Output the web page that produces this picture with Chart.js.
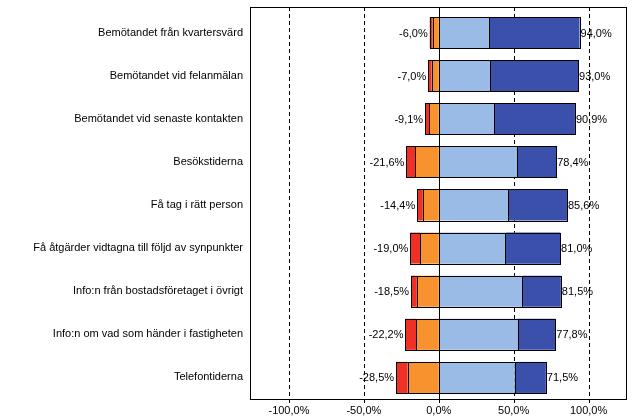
<!DOCTYPE html>
<html>
<head>
<meta charset="utf-8">
<script src="https://cdn.jsdelivr.net/npm/chart.js@4/dist/chart.umd.min.js"></script>
<style>
html,body{margin:0;padding:0;background:#fff;}
canvas{display:block;}
</style>
</head>
<body>
<canvas id="c" width="634" height="419"></canvas>
<script>
const categories = [
  "Bemötandet från kvartersvärd",
  "Bemötandet vid felanmälan",
  "Bemötandet vid senaste kontakten",
  "Besökstiderna",
  "Få tag i rätt person",
  "Få åtgärder vidtagna till följd av synpunkter",
  "Info:n från bostadsföretaget i övrigt",
  "Info:n om vad som händer i fastigheten",
  "Telefontiderna"
];
const negOrange = [-4.0, -4.7, -6.4, -15.7, -10.6, -12.3, -14.6, -15.2, -20.7];
const negRed    = [-2.0, -2.3, -2.7, -5.9, -3.8, -6.7, -3.9, -7.0, -7.8];
const posLight  = [33.3, 34.3, 37.1, 52.5, 46.4, 44.5, 55.9, 52.6, 50.8];
const posDark   = [60.7, 58.7, 53.8, 25.9, 39.2, 36.5, 25.6, 25.2, 20.7];
const negLabels = ["-6,0%", "-7,0%", "-9,1%", "-21,6%", "-14,4%", "-19,0%", "-18,5%", "-22,2%", "-28,5%"];
const posLabels = ["94,0%", "93,0%", "90,9%", "78,4%", "85,6%", "81,0%", "81,5%", "77,8%", "71,5%"];
const xTickValues = [-100, -50, 0, 50, 100];
const xTickLabels = ["-100,0%", "-50,0%", "0,0%", "50,0%", "100,0%"];

const FONT = "'Liberation Sans', Arial, sans-serif";
const FRAME_EXTRA_TOP = 4;

const bgAndLabels = {
  id: 'bgAndLabels',
  beforeDraw(chart) {
    const ctx = chart.ctx;
    ctx.save();
    ctx.fillStyle = '#fff';
    ctx.fillRect(0, 0, chart.width, chart.height);
    const xs = chart.scales.x, ys = chart.scales.y;
    ctx.font = '11px ' + FONT;
    ctx.fillStyle = '#000';
    ctx.textBaseline = 'middle';
    for (let i = 0; i < categories.length; i++) {
      const y = ys.getPixelForValue(i);
      const negEnd = xs.getPixelForValue(negOrange[i] + negRed[i]);
      const posEnd = xs.getPixelForValue(posLight[i] + posDark[i]);
      ctx.textAlign = 'right';
      ctx.fillText(negLabels[i], negEnd - 2, y + 1);
      ctx.textAlign = 'left';
      ctx.fillText(posLabels[i], posEnd + 1, y + 1);
    }
    ctx.restore();
  },
  beforeDatasetsDraw(chart) {
    const ctx = chart.ctx;
    const a = chart.chartArea;
    const xs = chart.scales.x;
    ctx.save();
    ctx.strokeStyle = '#000';
    ctx.lineWidth = 1;
    ctx.setLineDash([4, 3]);
    xTickValues.forEach(v => {
      if (v === 0) return;
      const x = Math.round(xs.getPixelForValue(v)) + 0.5;
      ctx.beginPath();
      ctx.moveTo(x, Math.round(a.top) - FRAME_EXTRA_TOP);
      ctx.lineTo(x, Math.round(a.bottom) + 4);
      ctx.stroke();
    });
    ctx.restore();
  },
  afterDatasetsDraw(chart) {
    const ctx = chart.ctx;
    const a = chart.chartArea;
    const xs = chart.scales.x;
    ctx.save();
    ctx.strokeStyle = '#000';
    ctx.lineWidth = 1;
    chart.data.datasets.forEach((ds, di) => {
      const meta = chart.getDatasetMeta(di);
      meta.data.forEach(el => {
        const p = el.getProps(['x', 'y', 'base', 'height'], true);
        const l = Math.round(Math.min(p.x, p.base)) + 0.5;
        const r = Math.round(Math.max(p.x, p.base)) + 0.5;
        const t = Math.round(p.y - p.height / 2) + 0.5;
        const b = Math.round(p.y + p.height / 2) + 0.5;
        ctx.strokeRect(l, t, r - l, b - t);
      });
    });
    const top = Math.round(a.top) - FRAME_EXTRA_TOP;
    const x0 = Math.round(xs.getPixelForValue(0)) + 0.5;
    ctx.beginPath();
    ctx.moveTo(x0, top);
    ctx.lineTo(x0, Math.round(a.bottom) + 4);
    ctx.stroke();
    ctx.strokeRect(Math.round(a.left) + 0.5, top + 0.5, Math.round(a.right - a.left), Math.round(a.bottom) - top);
    ctx.restore();
  }
};

new Chart(document.getElementById('c'), {
  type: 'bar',
  data: {
    labels: categories,
    datasets: [
      { data: negOrange, backgroundColor: '#f7922e', borderWidth: 0 },
      { data: negRed, backgroundColor: '#ee3124', borderWidth: 0 },
      { data: posLight, backgroundColor: '#99bbe6', borderWidth: 0 },
      { data: posDark, backgroundColor: '#3a50ab', borderWidth: 0 }
    ]
  },
  options: {
    indexAxis: 'y',
    responsive: false,
    animation: false,
    devicePixelRatio: 1,
    layout: { padding: { top: 7 + FRAME_EXTRA_TOP, right: 8, left: 0, bottom: 0 } },
    datasets: { bar: { categoryPercentage: 1, barPercentage: 0.72 } },
    plugins: { legend: { display: false }, tooltip: { enabled: false } },
    scales: {
      x: {
        stacked: true,
        min: -126,
        max: 125,
        afterBuildTicks(scale) { scale.ticks = xTickValues.map(v => ({ value: v })); },
        afterFit(scale) { scale.height = 20; scale.paddingLeft = 0; scale.paddingRight = 0; },
        ticks: {
          autoSkip: false,
          maxRotation: 0,
          padding: 5,
          color: '#000',
          font: { family: FONT, size: 11 },
          callback(v) { const i = xTickValues.indexOf(v); return i >= 0 ? xTickLabels[i] : ''; }
        },
        grid: { display: false, drawTicks: false },
        border: { display: false }
      },
      y: {
        stacked: true,
        afterFit(scale) { scale.width = 250; scale.paddingTop = 0; scale.paddingBottom = 0; },
        grid: { display: false, drawTicks: false },
        border: { display: false },
        ticks: {
          color: '#000',
          padding: 7,
          font: { family: FONT, size: 11 }
        }
      }
    }
  },
  plugins: [bgAndLabels]
});
</script>
</body>
</html>
